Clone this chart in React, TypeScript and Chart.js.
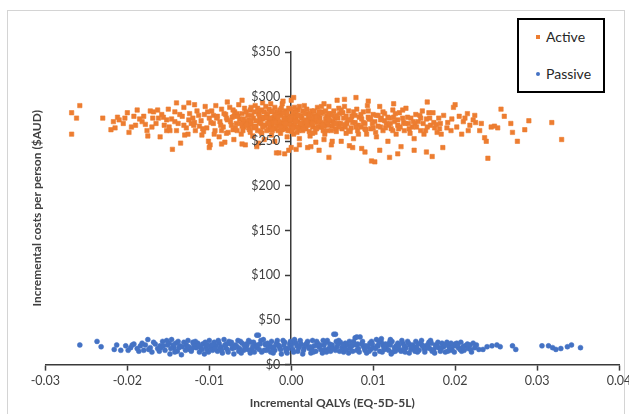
import React, { useEffect, useRef } from "react";
import { Chart, registerables } from "chart.js";

Chart.register(...registerables);

const seriesNames = ["Active", "Passive"];
const seriesColors = ["#ED7D31", "#4472C4"];
const xTickValues = [-0.03, -0.02, -0.01, 0, 0.01, 0.02, 0.03, 0.04];
const yTickValues = [0, 50, 100, 150, 200, 250, 300, 350];
const yTickLabels = ["$0", "$50", "$100", "$150", "$200", "$250", "$300", "$350"];
const xAxisTitle = "Incremental QALYs (EQ-5D-5L)";
const yAxisTitle = "Incremental costs per person ($AUD)";

// [incremental QALYs, incremental cost]
const activePoints: [number, number][] = [
  [-0.0268, 258], [-0.0268, 282], [-0.0262, 276], [-0.0258, 290], [-0.023, 276], [-0.0215, 265], [-0.0212, 277],
  [-0.021, 274], [-0.02, 282], [-0.0198, 260], [-0.0195, 266], [-0.019, 268], [-0.0188, 285], [-0.0182, 272],
  [-0.018, 278], [-0.0176, 262], [-0.0175, 256], [-0.0172, 284], [-0.017, 266], [-0.0168, 283], [-0.0165, 270],
  [-0.016, 255], [-0.0158, 280], [-0.0155, 268], [-0.0152, 274], [-0.015, 286], [-0.0148, 262], [-0.0146, 275],
  [-0.0145, 241], [-0.0142, 283], [-0.014, 262], [-0.014, 293], [-0.0138, 270], [-0.0135, 248], [-0.0133, 278],
  [-0.0131, 288], [-0.0128, 265], [-0.0126, 258], [-0.0124, 281], [-0.0122, 270], [-0.012, 276], [-0.0118, 291],
  [-0.0117, 262], [-0.0115, 284], [-0.0112, 267], [-0.011, 273], [-0.0109, 257], [-0.0106, 280], [-0.0105, 289],
  [-0.0103, 265], [-0.0101, 250], [-0.01, 276], [-0.0099, 246], [-0.0097, 284], [-0.0095, 270], [-0.0093, 262],
  [-0.0092, 290], [-0.009, 278], [-0.0088, 255], [-0.0087, 272], [-0.0085, 286], [-0.0083, 266], [-0.0081, 249],
  [-0.008, 280], [-0.0078, 274], [-0.0077, 260], [-0.0075, 288], [-0.0073, 268], [-0.0072, 277], [-0.007, 252],
  [-0.0069, 283], [-0.0067, 270], [-0.0066, 262], [-0.0064, 291], [-0.0063, 275], [-0.0061, 258], [-0.006, 281],
  [-0.0058, 266], [-0.0057, 287], [-0.0056, 246], [-0.0054, 272], [-0.0053, 279], [-0.0051, 263], [-0.005, 285],
  [-0.0049, 269], [-0.0047, 256], [-0.0046, 276], [-0.0044, 290], [-0.0043, 266], [-0.0042, 244], [-0.004, 281],
  [-0.0039, 271], [-0.0037, 261], [-0.0036, 285], [-0.0035, 275], [-0.0033, 252], [-0.0032, 268], [-0.0031, 289],
  [-0.0029, 279], [-0.0028, 263], [-0.0027, 273], [-0.0025, 283], [-0.0024, 257], [-0.0023, 269], [-0.0021, 277],
  [-0.002, 288], [-0.0019, 264], [-0.0018, 237], [-0.0017, 274], [-0.0015, 282], [-0.0014, 268], [-0.0013, 259],
  [-0.0012, 279], [-0.0011, 292], [-0.001, 271], [-0.0008, 265], [-0.0007, 284], [-0.0006, 276], [-0.0005, 255],
  [-0.0004, 270], [-0.0003, 287], [-0.0002, 262], [-0.0001, 278], [0.0, 296], [0.0001, 268], [0.0002, 274],
  [0.0003, 258], [0.0004, 283], [0.0005, 266], [0.0006, 241],
  [0.033, 252], [0.0318, 271], [0.029, 273], [0.0285, 263], [0.0276, 250], [0.027, 260], [0.0268, 270],
  [0.026, 278], [0.0256, 286], [0.0252, 265], [0.0248, 267], [0.0244, 266], [0.024, 231], [0.0238, 250],
  [0.0236, 254], [0.023, 262], [0.0225, 271], [0.0222, 274], [0.0218, 268], [0.0215, 281], [0.0212, 276],
  [0.0208, 258], [0.0205, 278], [0.02, 291], [0.0198, 288], [0.0195, 262], [0.019, 265], [0.0185, 243],
  [0.0182, 270], [0.018, 276], [0.0178, 260], [0.0175, 265], [0.0172, 233], [0.017, 268], [0.0168, 282],
  [0.0166, 294], [0.0165, 275], [0.0162, 258], [0.016, 284], [0.0158, 262], [0.0155, 272], [0.0152, 280],
  [0.015, 253], [0.0148, 266], [0.0146, 276], [0.0143, 270], [0.014, 287], [0.0138, 262], [0.0136, 276],
  [0.0134, 244], [0.0132, 282], [0.013, 268], [0.0128, 258], [0.0126, 272], [0.0124, 285], [0.0122, 264],
  [0.012, 276], [0.0118, 250], [0.0116, 270], [0.0114, 281], [0.0112, 262], [0.011, 276], [0.0108, 289],
  [0.0106, 267], [0.0104, 255], [0.0102, 272], [0.01, 280], [0.0098, 228], [0.0097, 264], [0.0095, 275],
  [0.0093, 290], [0.0092, 258], [0.009, 270], [0.0088, 283], [0.0086, 242], [0.0085, 266], [0.0083, 277],
  [0.0081, 262], [0.008, 286], [0.0079, 299], [0.0078, 271], [0.0076, 253], [0.0074, 278], [0.0073, 265],
  [0.0071, 245], [0.007, 284], [0.0068, 270], [0.0067, 259], [0.0065, 289], [0.0064, 276], [0.0062, 264],
  [0.0061, 250], [0.0059, 281], [0.0058, 270], [0.0056, 296], [0.0055, 261], [0.0053, 276], [0.0052, 284],
  [0.005, 267], [0.0049, 246], [0.0047, 273], [0.0046, 289], [0.0044, 262], [0.0043, 279], [0.0041, 270],
  [0.004, 252], [0.0038, 283], [0.0037, 266], [0.0035, 276], [0.0034, 240], [0.0032, 288], [0.0031, 271],
  [0.0029, 260], [0.0028, 279], [0.0026, 266], [0.0025, 284], [0.0023, 256], [0.0022, 273], [0.002, 243],
  [0.0019, 281], [0.0017, 267], [0.0016, 290], [0.0014, 262], [0.0013, 276], [0.0011, 270], [0.001, 253],
  [0.0008, 285], [0.0007, 266], [0.0005, 279],
  [0.0102, 227], [0.0046, 232], [0.0024, 244], [-0.0008, 236], [-0.0015, 237], [0.012, 232], [0.015, 240], [0.0165, 238],
  [-0.0079, 276], [-0.0071, 263], [-0.0066, 281], [-0.0059, 271], [-0.0052, 265], [-0.0048, 279], [-0.0041, 262],
  [-0.0038, 275], [-0.0034, 268], [-0.003, 281], [-0.0026, 266], [-0.0022, 273], [-0.0019, 279], [-0.0016, 262],
  [-0.0012, 270], [-0.0009, 276], [-0.0006, 264], [-0.0003, 272], [0.0, 267], [0.0002, 281], [0.0004, 270],
  [0.0006, 276], [0.0009, 262], [0.0012, 278], [0.0015, 271], [0.0018, 264], [0.0021, 276], [0.0024, 269],
  [0.0027, 274], [0.003, 265], [0.0033, 279], [0.0036, 271], [0.0039, 262], [0.0042, 275], [0.0045, 268],
  [0.0048, 281], [0.0051, 272], [0.0054, 264], [0.0057, 276], [0.006, 270], [0.0063, 282], [0.0066, 266],
  [0.0069, 274], [0.0072, 261], [0.0075, 271], [0.0078, 279], [0.0082, 268], [0.0086, 275], [0.009, 264],
  [0.0094, 277], [0.0099, 270], [0.0104, 279], [0.0109, 266], [0.0114, 273], [0.0119, 268], [0.0125, 277],
  [0.0131, 264], [0.0137, 271], [0.0144, 264], [0.0151, 270], [0.0158, 276], [0.0166, 266], [0.0174, 271],
  [0.0183, 258],
  [-0.0045, 283], [-0.0041, 287], [-0.0037, 270], [-0.0034, 277], [-0.003, 262], [-0.0027, 286], [-0.0024, 276],
  [-0.0021, 265], [-0.0018, 283], [-0.0015, 272], [-0.0012, 287], [-0.0009, 266], [-0.0006, 281], [-0.0004, 274],
  [-0.0001, 286], [0.0001, 261], [0.0003, 277], [0.0006, 283], [0.0008, 272], [0.0011, 266], [0.0014, 284],
  [0.0017, 274], [0.002, 268], [0.0023, 281], [0.0026, 259], [0.0029, 273], [0.0033, 266], [0.0037, 281],
  [0.0041, 258], [0.0045, 276], [-0.005, 260], [-0.006, 267], [-0.007, 278], [-0.0085, 262], [-0.0095, 279],
  [-0.0108, 264], [-0.0118, 271], [-0.013, 257], [-0.0152, 262], [-0.0162, 276], [-0.0185, 275], [-0.0205, 270],
  [-0.022, 263],
  [-0.0025, 292], [-0.001, 295], [0.0003, 299], [-0.0035, 293], [-0.006, 296], [0.001, 289], [0.004, 292],
  [0.0065, 297], [0.0094, 295], [0.0125, 292], [-0.0078, 294], [-0.0125, 293], [-0.004, 248], [-0.006, 247],
  [-0.002, 250], [0.001, 246], [0.003, 249], [0.005, 250], [0.0075, 243], [0.009, 238], [0.0108, 240],
  [0.013, 236], [-0.0085, 247], [-0.01, 243], [-0.0003, 240], [0.0, 243],
  [-0.0119, 268], [-0.0113, 279], [-0.0107, 261], [-0.0102, 283], [-0.0098, 271], [-0.0094, 258], [-0.0091, 276],
  [-0.0086, 268], [-0.0082, 281], [-0.0079, 259], [-0.0074, 272], [-0.0071, 285], [-0.0068, 265], [-0.0065, 278],
  [-0.0062, 270], [-0.0059, 262], [-0.0055, 283], [-0.0052, 274], [-0.0049, 288], [-0.0046, 265], [-0.0043, 273],
  [-0.0039, 279], [-0.0036, 259], [-0.0033, 283], [-0.0029, 270], [-0.0026, 276], [-0.0023, 262], [-0.002, 280],
  [-0.0017, 268], [-0.0014, 285], [-0.0011, 263], [-0.0008, 273], [-0.0005, 281], [-0.0002, 269], [0.0001, 276],
  [0.0004, 288], [0.0007, 260], [0.001, 279], [0.0013, 267], [0.0016, 281], [0.0019, 272], [0.0022, 261],
  [0.0025, 276], [0.0028, 284], [0.0031, 264], [0.0034, 273], [0.0037, 289], [0.004, 267], [0.0043, 271],
  [0.0046, 281], [0.0049, 262], [0.0052, 270], [0.0055, 279], [0.0058, 266], [0.0061, 285], [0.0064, 269],
  [0.0067, 278], [0.007, 262], [0.0073, 274], [0.0076, 283], [0.0079, 266], [0.0082, 258], [0.0085, 280],
  [0.0088, 271], [0.0091, 263], [0.0094, 284], [0.0097, 275], [0.01, 265], [0.0103, 260], [0.0106, 279],
  [0.0109, 274], [0.0112, 283], [0.0115, 265], [0.0118, 277], [0.0121, 270], [0.0124, 262], [0.0127, 281],
  [0.013, 274], [0.0133, 266], [0.0136, 285], [0.0139, 270], [0.0142, 277], [0.0145, 259], [0.0149, 272],
  [0.0153, 266], [0.0157, 279], [0.0161, 270], [0.0164, 262], [0.0169, 276], [0.0173, 282], [0.0177, 269],
  [0.0181, 264], [0.0186, 279], [0.0191, 271], [0.0196, 275], [0.0202, 266], [0.021, 272], [0.0216, 262],
  [0.0224, 279], [0.0232, 270],
  [-0.0125, 274], [-0.0131, 268], [-0.0136, 280], [-0.0142, 272], [-0.0149, 266], [-0.0156, 277], [-0.0163, 285],
  [-0.0169, 276], [-0.0178, 269], [-0.0192, 278], [-0.0203, 276], [-0.0217, 272],
  [-0.0058, 275], [-0.0054, 268], [-0.0049, 273], [-0.0044, 267], [-0.0039, 284], [-0.0035, 266], [-0.0031, 276],
  [-0.0027, 270], [-0.0023, 284], [-0.002, 271], [-0.0016, 277], [-0.0013, 266], [-0.001, 282], [-0.0007, 270],
  [-0.0004, 262], [-0.0001, 274], [0.0002, 265], [0.0005, 272], [0.0008, 279], [0.0012, 270], [0.0015, 264],
  [0.0019, 286], [0.0022, 279], [0.0026, 270], [0.003, 277], [0.0034, 283], [0.0038, 268], [0.0042, 284],
  [0.0046, 274], [0.005, 279], [0.0054, 270], [0.0058, 287],
];

const passivePoints: [number, number][] = [
  [-0.0258, 22], [-0.0237, 26], [-0.0232, 20], [-0.0216, 17], [-0.0213, 22], [-0.0208, 16], [-0.0202, 21],
  [-0.0196, 19], [-0.0192, 23], [-0.0188, 18], [-0.0184, 21], [-0.018, 16], [-0.0178, 22], [-0.0175, 28],
  [-0.0172, 19], [-0.017, 14], [-0.0166, 23], [-0.0163, 18], [-0.016, 21], [-0.0157, 26], [-0.0154, 16],
  [-0.0151, 22], [-0.0148, 12], [-0.0146, 28], [-0.0143, 19], [-0.0141, 24], [-0.0139, 15], [-0.0136, 21],
  [-0.0134, 11], [-0.0131, 25], [-0.0129, 16], [-0.0144, 22], [-0.0137, 19],
  [-0.0128, 22], [-0.0124, 17], [-0.012, 25], [-0.0116, 19], [-0.0112, 14], [-0.0108, 23], [-0.0104, 20],
  [-0.01, 27], [-0.0096, 16], [-0.0092, 21], [-0.0088, 24], [-0.0084, 13], [-0.008, 19], [-0.0076, 26],
  [-0.0072, 18], [-0.0068, 22], [-0.0064, 15], [-0.006, 24], [-0.0056, 20], [-0.0052, 27], [-0.0048, 17],
  [-0.0044, 21], [-0.004, 33], [-0.0036, 14], [-0.0032, 23], [-0.0028, 19], [-0.0024, 26], [-0.002, 16],
  [-0.0016, 22], [-0.0012, 12], [-0.0008, 25], [-0.0004, 18], [0.0, 21], [0.0004, 28], [0.0008, 15],
  [0.0012, 23], [0.0016, 19], [0.002, 26], [0.0024, 13], [0.0028, 21], [0.0032, 24], [0.0036, 17],
  [0.004, 22], [0.0044, 27], [0.0048, 15], [0.0052, 34], [0.0056, 20], [0.006, 25], [0.0064, 14],
  [0.0068, 22], [0.0072, 18], [0.0076, 26], [0.008, 16], [0.0084, 31], [0.0088, 21], [0.0092, 13],
  [0.0096, 24], [0.01, 19], [0.0104, 28], [0.0108, 15], [0.0112, 22], [0.0116, 18], [0.012, 25],
  [0.0124, 14], [0.0128, 21], [0.0132, 17], [0.0136, 24], [0.014, 19], [0.0144, 13], [0.0148, 22],
  [0.0152, 26], [0.0156, 16], [0.016, 21], [0.0164, 18], [0.0168, 25], [0.0172, 15], [0.0176, 22],
  [0.018, 19], [0.0184, 24], [0.0188, 14], [0.0192, 21], [0.0196, 17], [0.02, 23], [0.0204, 19],
  [0.0208, 15], [0.0212, 21], [0.0216, 18], [0.022, 14], [0.0224, 19],
  [-0.0126, 27], [-0.0122, 15], [-0.0118, 21], [-0.0114, 24], [-0.011, 18], [-0.0106, 12], [-0.0102, 22],
  [-0.0098, 19], [-0.0094, 25], [-0.009, 15], [-0.0086, 20], [-0.0082, 28], [-0.0078, 17], [-0.0074, 23],
  [-0.007, 12], [-0.0066, 20], [-0.0062, 26], [-0.0058, 16], [-0.0054, 22], [-0.005, 13], [-0.0046, 25],
  [-0.0042, 19], [-0.0038, 23], [-0.0034, 28], [-0.003, 16], [-0.0026, 21], [-0.0022, 13], [-0.0018, 24],
  [-0.0014, 19], [-0.001, 27], [-0.0006, 15], [-0.0002, 23], [0.0002, 17], [0.0006, 24], [0.001, 20],
  [0.0014, 12], [0.0018, 22], [0.0022, 18], [0.0026, 27], [0.003, 15], [0.0034, 20], [0.0038, 13],
  [0.0042, 25], [0.0046, 18], [0.005, 22], [0.0054, 16], [0.0058, 27], [0.0062, 19], [0.0066, 24],
  [0.007, 13], [0.0074, 21], [0.0078, 30], [0.0082, 18], [0.0086, 23], [0.009, 16], [0.0094, 20],
  [0.0098, 26], [0.0102, 12], [0.0106, 21], [0.011, 25], [0.0114, 17], [0.0118, 22], [0.0122, 12],
  [0.0126, 19], [0.013, 24], [0.0134, 15], [0.0138, 21], [0.0142, 26], [0.0146, 17], [0.015, 20],
  [0.0154, 14], [0.0158, 24], [0.0162, 18], [0.0166, 22], [0.017, 27], [0.0174, 17], [0.0178, 21],
  [0.0182, 15], [0.0186, 20], [0.019, 25], [0.0194, 16], [0.0198, 21], [0.0202, 24], [0.0206, 17],
  [0.021, 20], [0.0218, 22],
  [-0.0127, 19], [-0.0119, 23], [-0.0111, 20], [-0.0103, 17], [-0.0095, 22], [-0.0087, 18], [-0.0079, 23],
  [-0.0071, 20], [-0.0063, 18], [-0.0055, 23], [-0.0047, 20], [-0.0039, 17], [-0.0031, 22], [-0.0023, 19],
  [-0.0015, 21], [-0.0007, 18], [0.0001, 24], [0.0009, 19], [0.0017, 22], [0.0025, 18], [0.0033, 21],
  [0.0041, 17], [0.0049, 20], [0.0057, 23], [0.0065, 19], [0.0073, 21], [0.0081, 23], [0.0089, 19],
  [0.0097, 17], [0.0105, 21], [0.0113, 19], [0.0121, 22], [0.0129, 19], [0.0137, 17], [0.0145, 22],
  [0.0153, 19], [0.0161, 21], [0.0169, 18], [0.0177, 20], [0.0185, 22], [0.0193, 19], [0.0201, 21],
  [0.0209, 19],
  [-0.0125, 20], [-0.0121, 18], [-0.0117, 26], [-0.0113, 21], [-0.0109, 17], [-0.0105, 25], [-0.0101, 14],
  [-0.0097, 22], [-0.0093, 18], [-0.0089, 27], [-0.0085, 16], [-0.0081, 22], [-0.0077, 14], [-0.0073, 25],
  [-0.0069, 19], [-0.0065, 27], [-0.0061, 13], [-0.0057, 21], [-0.0053, 17], [-0.0049, 25], [-0.0045, 14],
  [-0.0041, 22], [-0.0037, 27], [-0.0033, 16], [-0.0029, 24], [-0.0025, 14], [-0.0021, 20], [-0.0017, 27],
  [-0.0013, 17], [-0.0009, 22], [-0.0005, 13], [-0.0001, 26], [0.0003, 14], [0.0007, 21], [0.0011, 27],
  [0.0015, 16], [0.0019, 24], [0.0023, 20], [0.0027, 14], [0.0031, 26], [0.0035, 22], [0.0039, 27],
  [0.0043, 14], [0.0047, 23], [0.0051, 18], [0.0055, 26], [0.0059, 15], [0.0063, 22], [0.0067, 17],
  [0.0071, 26], [0.0075, 15], [0.0079, 22], [0.0083, 14], [0.0087, 26], [0.0091, 21], [0.0095, 15],
  [0.0099, 23], [0.0103, 18], [0.0107, 26], [0.0111, 14], [0.0115, 23], [0.0119, 16], [0.0123, 26],
  [0.0127, 15], [0.0131, 21], [0.0135, 27], [0.0139, 14], [0.0143, 24], [0.0147, 19], [0.0151, 15],
  [0.0155, 23], [0.0159, 27], [0.0163, 14], [0.0167, 20], [0.0171, 24], [0.0175, 13], [0.0179, 25],
  [0.0183, 18], [0.0187, 22], [0.0191, 15], [0.0195, 24], [0.0199, 14], [0.0203, 22], [0.0207, 25],
  [0.0211, 16], [0.0215, 23], [0.0219, 17], [0.0222, 24],
  [-0.0199, 16], [-0.0194, 22], [-0.0186, 15], [-0.0182, 24], [-0.0174, 17], [-0.0168, 25], [-0.0161, 15],
  [-0.0156, 21], [-0.0152, 27], [-0.0147, 18], [-0.0142, 14], [-0.0138, 26], [-0.0133, 20], [-0.0149, 24],
  [-0.0159, 19],
  [-0.0042, 33], [0.0054, 34], [0.008, 31], [0.011, 29], [0.0121, 28],
  [0.0226, 22], [0.0229, 17], [0.0234, 17], [0.0239, 20], [0.0245, 21], [0.0251, 22], [0.0255, 20],
  [0.027, 21], [0.0274, 17], [0.0306, 21], [0.0314, 21], [0.0319, 19], [0.0323, 17], [0.0329, 18],
  [0.0337, 20], [0.0342, 22], [0.0353, 19],
];

const FONT = "Lato, 'Open Sans', 'Liberation Sans', sans-serif";
const TEXT = "#404040";
const AXIS = "#3a3a3a";
const TICK_SIZE = 12.5;

const framePlugin = {
  id: "frame",
  beforeDraw(chart: any) {
    const ctx = chart.ctx;
    ctx.save();
    ctx.fillStyle = "#ffffff";
    ctx.fillRect(0, 0, chart.width, chart.height);
    ctx.strokeStyle = "#d4d4d4";
    ctx.lineWidth = 1;
    ctx.strokeRect(7.5, 10.5, 617, 420);
    ctx.restore();
  },
  afterDraw(chart: any) {
    // y tick labels sit to the left of the crossing axis at x = 0
    const ctx = chart.ctx;
    const xs = chart.scales.x;
    const ys = chart.scales.y;
    const x0 = xs.getPixelForValue(0);
    ctx.save();
    ctx.font = `${TICK_SIZE}px ${FONT}`;
    ctx.fillStyle = TEXT;
    ctx.textAlign = "right";
    ctx.textBaseline = "middle";
    yTickValues.forEach((v, i) => {
      ctx.fillText(yTickLabels[i], x0 - 11, ys.getPixelForValue(v));
    });
    ctx.restore();
  },
};

export default function App() {
  const ref = useRef<HTMLCanvasElement>(null);

  useEffect(() => {
    if (!ref.current) return;
    const chart = new Chart(ref.current, {
      type: "scatter",
      data: {
        datasets: [
          {
            label: seriesNames[0],
            data: activePoints.map(([x, y]) => ({ x, y })),
            xAxisID: "x",
            yAxisID: "y",
            pointStyle: "rect",
            pointRadius: 3.1,
            backgroundColor: seriesColors[0],
            borderColor: seriesColors[0],
            borderWidth: 0.6,
          },
          {
            label: seriesNames[1],
            data: passivePoints.map(([x, y]) => ({ x, y })),
            xAxisID: "x",
            yAxisID: "y",
            pointStyle: "circle",
            pointRadius: 2.5,
            backgroundColor: seriesColors[1],
            borderColor: seriesColors[1],
            borderWidth: 0.5,
          },
        ],
      },
      options: {
        responsive: false,
        animation: false,
        events: [],
        layout: { padding: { left: 23, right: 10, top: 52, bottom: 0 } },
        plugins: { legend: { display: false }, tooltip: { enabled: false } },
        scales: {
          x: {
            type: "linear",
            position: "bottom",
            min: -0.03,
            max: 0.04,
            afterBuildTicks: (scale: any) => {
              scale.ticks = xTickValues.map((v) => ({ value: v }));
            },
            afterFit: (scale: any) => {
              scale.paddingLeft = 0;
              scale.paddingRight = 0;
            },
            ticks: {
              callback: (v: any) => Number(v).toFixed(2),
              font: { family: FONT, size: TICK_SIZE },
              color: TEXT,
              padding: 3,
              maxRotation: 0,
            },
            grid: { display: true, drawOnChartArea: false, drawTicks: true, tickLength: 6, tickColor: AXIS, tickWidth: 1.5 },
            border: { display: true, color: AXIS, width: 1.5 },
            title: {
              display: true,
              text: xAxisTitle,
              font: { family: FONT, size: 12, weight: "bold" },
              color: TEXT,
              padding: { top: 4, bottom: 4 },
            },
          },
          y: {
            type: "linear",
            position: { x: 0 } as any,
            min: 0,
            max: 350,
            z: 1,
            afterBuildTicks: (scale: any) => {
              scale.ticks = yTickValues.map((v) => ({ value: v }));
            },
            ticks: { display: false },
            grid: { display: true, drawOnChartArea: false, drawTicks: true, tickLength: 5, tickColor: AXIS, tickWidth: 1.5 },
            border: { display: true, color: AXIS, width: 1.5 },
          },
          yTitle: {
            type: "linear",
            position: "left",
            axis: "y",
            display: true,
            grid: { display: false, drawTicks: false },
            border: { display: false },
            ticks: { display: false },
            title: {
              display: true,
              text: yAxisTitle,
              font: { family: FONT, size: 12, weight: "bold" },
              color: TEXT,
              padding: { top: 7, bottom: 1 },
            },
          },
        },
      } as any,
      plugins: [framePlugin],
    });
    return () => chart.destroy();
  }, []);

  const legendText: React.CSSProperties = {
    position: "absolute",
    left: 27,
    fontFamily: FONT,
    fontSize: 14,
    color: "#262626",
    lineHeight: "16px",
    whiteSpace: "nowrap",
  };

  return (
    <div style={{ position: "fixed", left: 0, top: 0, width: 629, height: 414, background: "#fff" }}>
      <canvas ref={ref} width={629} height={414} style={{ display: "block" }} />
      <div
        style={{
          position: "absolute",
          left: 517,
          top: 18,
          width: 84,
          height: 71,
          border: "2px solid #000",
          background: "#fff",
        }}
      >
        <span style={{ position: "absolute", left: 17, top: 15, width: 4, height: 4, background: seriesColors[0] }} />
        <span style={{ ...legendText, top: 9 }}>{seriesNames[0]}</span>
        <span
          style={{
            position: "absolute",
            left: 17,
            top: 52,
            width: 4,
            height: 4,
            borderRadius: 2,
            background: seriesColors[1],
          }}
        />
        <span style={{ ...legendText, top: 46 }}>{seriesNames[1]}</span>
      </div>
    </div>
  );
}
